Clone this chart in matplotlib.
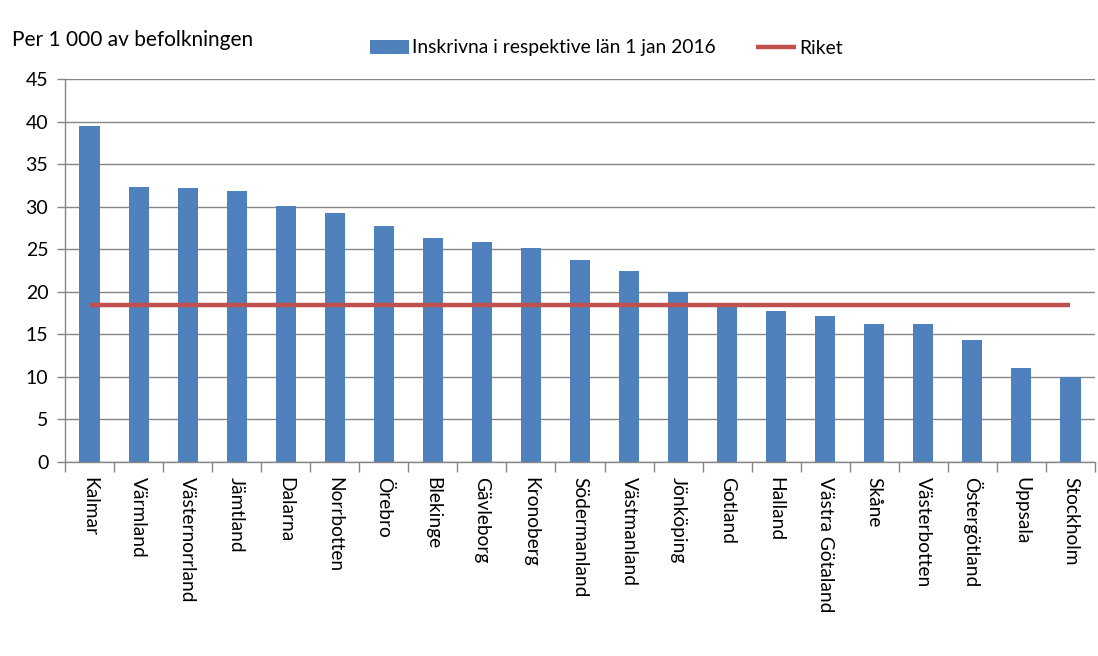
import matplotlib
matplotlib.use("Agg")
import matplotlib.pyplot as plt
import numpy as np

plt.rcParams['font.family'] = ['Lato', 'DejaVu Sans']

categories = ["Kalmar", "Värmland", "Västernorrland", "Jämtland", "Dalarna", "Norrbotten",
              "Örebro", "Blekinge", "Gävleborg", "Kronoberg", "Södermanland", "Västmanland",
              "Jönköping", "Gotland", "Halland", "Västra Götaland", "Skåne", "Västerbotten",
              "Östergötland", "Uppsala", "Stockholm"]
values = [39.5, 32.3, 32.2, 31.8, 30.1, 29.2, 27.7, 26.3, 25.9, 25.2, 23.7, 22.5,
          20.0, 18.4, 17.7, 17.1, 16.2, 16.2, 14.3, 11.1, 10.0]
riket = 18.5
yticks = [0, 5, 10, 15, 20, 25, 30, 35, 40, 45]

bar_label = "Inskrivna i respektive län 1 jan 2016"
line_label = "Riket"

W, H = 1098, 656
fig = plt.figure(figsize=(W/100, H/100), dpi=100)
ax = fig.add_axes([65/W, (H-462)/H, 1030/W, 383/H])

x = np.arange(len(categories))
bars = ax.bar(x, values, width=0.41, color="#4F81BD", label=bar_label, zorder=2)
line, = ax.plot([x[0], x[-1]], [riket, riket], color="#C0504D", lw=3.2,
                solid_capstyle="butt", label=line_label, zorder=3)

ax.set_xlim(-0.5, len(categories) - 0.5)
ax.set_ylim(0, 45)
ax.set_yticks(yticks)
ax.yaxis.grid(True, color="#868686", lw=1.0, zorder=0)
ax.set_axisbelow(True)

ax.set_xticks(x)
ax.set_xticklabels(categories, rotation=270, fontsize=13.8, va="top", ha="center")
ax.set_xticks(np.arange(-0.5, len(categories) + 0.5, 1), minor=True)
ax.tick_params(axis="x", which="major", length=0, pad=11)
ax.tick_params(axis="x", which="minor", length=7, color="#868686", width=1)
ax.tick_params(axis="y", length=6, color="#868686", width=1, labelsize=14, pad=6)

for s in ["top", "right"]:
    ax.spines[s].set_visible(False)
for s in ["left", "bottom"]:
    ax.spines[s].set_color("#868686")
    ax.spines[s].set_linewidth(1.0)

fig.text(12/W, 1 - 40/H, "Per 1 000 av befolkningen", fontsize=15, va="center", ha="left")

fig.legend(handles=[bars, line], labels=[bar_label, line_label], loc="center",
           bbox_to_anchor=(606/W, 1 - 48/H), ncol=2, frameon=False, fontsize=13.9,
           handlelength=2.05, handletextpad=0.15, columnspacing=2.1)

fig.savefig("out.png", dpi=100)
